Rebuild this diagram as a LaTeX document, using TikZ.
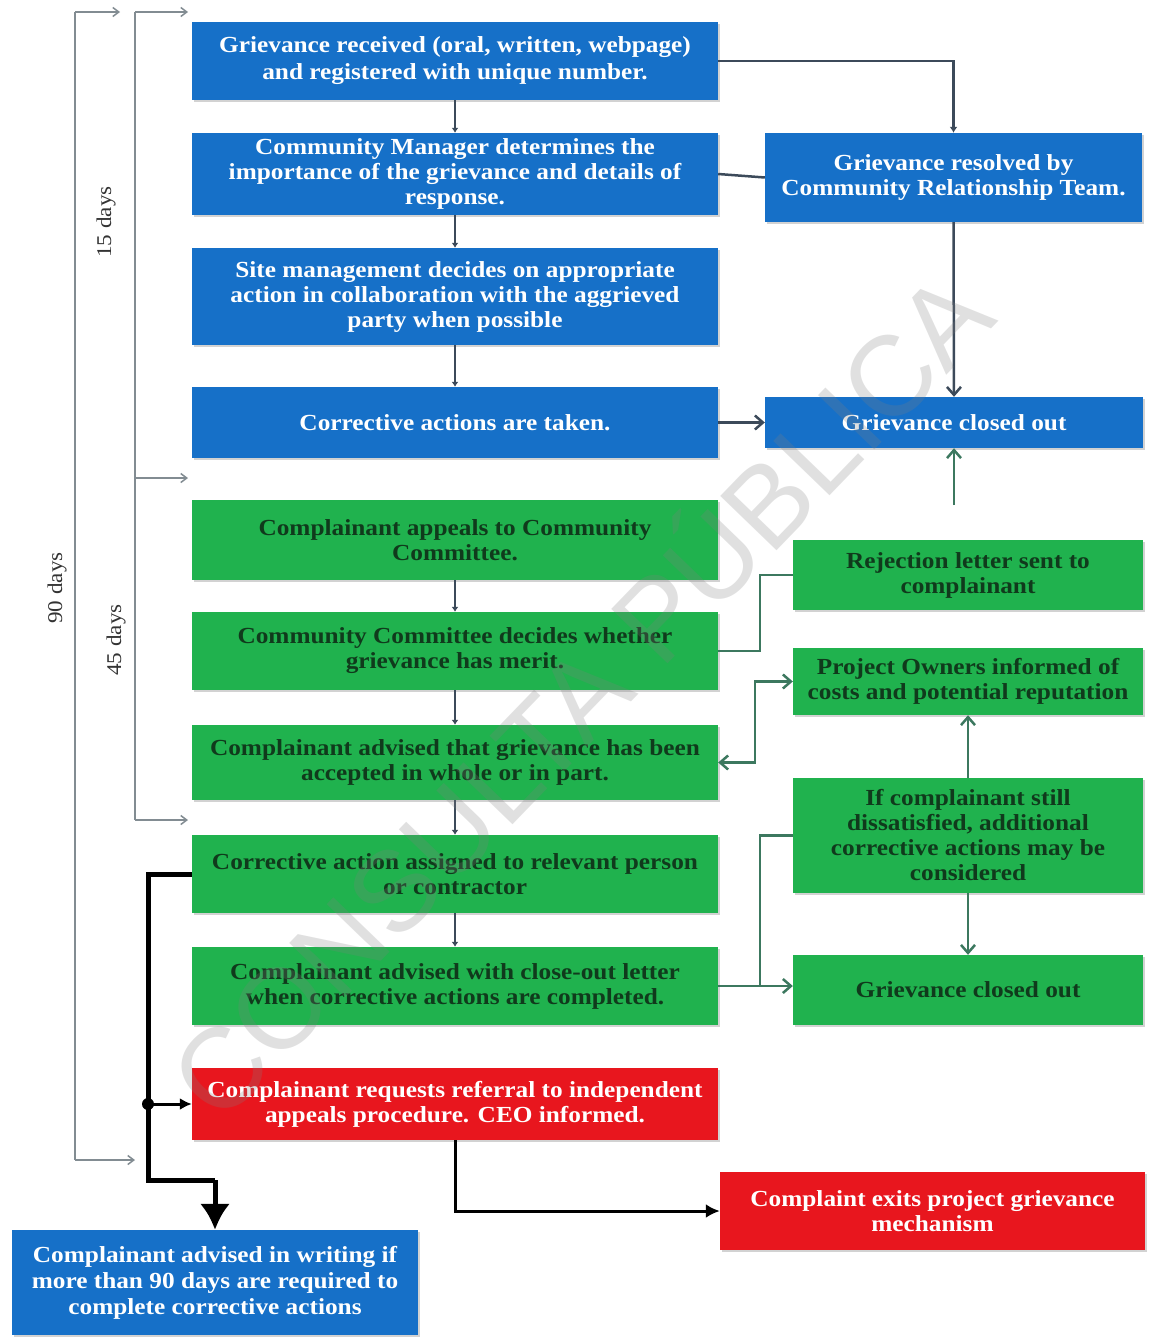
\documentclass[tikz,border=0pt]{standalone}
\usepackage{fontspec}
\usepackage{graphicx}
\setmainfont[FakeStretch=1.1]{Liberation Serif}
\newfontfamily\wmfont{Liberation Sans}
\usetikzlibrary{arrows.meta,shadows}
\definecolor{cblue}{RGB}{22,112,200}
\definecolor{cgreen}{RGB}{32,178,78}
\definecolor{cred}{RGB}{232,22,30}
\definecolor{gtext}{RGB}{16,58,28}
\definecolor{cline}{RGB}{60,74,90}
\definecolor{cbrk}{RGB}{130,140,146}
\definecolor{cgarrow}{RGB}{60,120,95}
\begin{document}
\begin{tikzpicture}[x=1pt,y=-1pt,
  box/.style={rectangle, inner sep=2pt, align=center,
    font=\bfseries\fontsize{23}{25}\selectfont,
    drop shadow={opacity=0.35, shadow xshift=2pt, shadow yshift=-2pt}},
  sz/.style 2 args={minimum width=#1, minimum height=#2},
  bluebox/.style={box, fill=cblue, text=white},
  greenbox/.style={box, fill=cgreen, text=gtext},
  redbox/.style={box, fill=cred, text=white},
  vlink/.style={draw=cline, line width=2pt, -{Latex[length=5pt,width=7pt]}},
  slink/.style={draw=cline, line width=2.5pt},
  sarrow/.style={draw=cline, line width=2.5pt, -{Straight Barb[length=8pt,width=14pt]}},
  garrow/.style={draw=cgarrow, line width=2.5pt},
  gtip/.style={-{Straight Barb[length=8pt,width=14pt]}},
  brk/.style={draw=cbrk, line width=1.5pt},
  brkarrow/.style={draw=cbrk, line width=1.5pt, -{Straight Barb[length=6pt,width=9pt]}},
  dlabel/.style={rotate=90, font=\fontsize{21}{24}\selectfont, text=black!80}
]
\useasboundingbox (0,0) rectangle (1150,1338);
\fill[white] (0,0) rectangle (1150,1338);

% time brackets
\draw[brk] (75,12) -- (75,1160);
\draw[brkarrow] (75,12) -- (120,12);
\draw[brkarrow] (75,1160) -- (135,1160);
\draw[brk, line width=2.5pt] (135,12) -- (135,820);
\draw[brkarrow] (135,12) -- (188,12);
\draw[brkarrow] (135,478) -- (188,478);
\draw[brkarrow] (135,820) -- (188,820);
\node[dlabel] (d15) at (106,222) {15 days};
\node[dlabel] (d45) at (116,640) {45 days};
\node[dlabel] (d90) at (57,588) {90 days};

% left column
\node[bluebox, sz={526pt}{78pt}, font=\bfseries\fontsize{23}{27}\selectfont] (B1) at (455,61) {Grievance received (oral, written, webpage)\\ and registered with unique number.};
\node[bluebox, sz={526pt}{82pt}] (B2) at (455,174) {Community Manager determines the\\ importance of the grievance and details of\\ response.};
\node[bluebox, sz={526pt}{97pt}] (B3) at (455,296.5) {Site management decides on appropriate\\ action in collaboration with the aggrieved\\ party when possible};
\node[bluebox, sz={526pt}{71pt}] (B4) at (455,422.5) {Corrective actions are taken.};
\node[greenbox, sz={526pt}{80pt}] (G1) at (455,540) {Complainant appeals to Community\\ Committee.};
\node[greenbox, sz={526pt}{78pt}] (G2) at (455,651) {Community Committee decides whether\\ grievance has merit.};
\node[greenbox, sz={526pt}{75pt}] (G3) at (455,762.5) {Complainant advised that grievance has been\\ accepted in whole or in part.};
\node[greenbox, sz={526pt}{78pt}] (G4) at (455,874) {Corrective action assigned to relevant person\\ or contractor};
\node[greenbox, sz={526pt}{78pt}] (G5) at (455,986) {Complainant advised with close-out letter\\ when corrective actions are completed.};
\node[redbox, sz={526pt}{72pt}] (R1) at (455,1104) {Complainant requests referral to independent\\ appeals procedure. CEO informed.};

% right column
\node[bluebox, sz={377pt}{89pt}] (Res) at (953.5,177.5) {Grievance resolved by\\ Community Relationship Team.};
\node[bluebox, sz={378pt}{51pt}] (CB) at (954,422.5) {Grievance closed out};
\node[greenbox, sz={350pt}{70pt}] (Rej) at (968,575) {Rejection letter sent to\\ complainant};
\node[greenbox, sz={350pt}{67pt}] (PO) at (968,681.5) {Project Owners informed of\\ costs and potential reputation};
\node[greenbox, sz={350pt}{115pt}] (If) at (968,835.5) {If complainant still\\ dissatisfied, additional\\ corrective actions may be\\ considered};
\node[greenbox, sz={350pt}{70pt}] (CG) at (968,990) {Grievance closed out};
\node[redbox, sz={425pt}{78pt}] (R2) at (932.5,1211) {Complaint exits project grievance\\ mechanism};
\node[bluebox, sz={406pt}{105pt}, font=\bfseries\fontsize{23}{26}\selectfont] (BB) at (215,1282.5) {Complainant advised in writing if\\ more than 90 days are required to\\ complete corrective actions};

% vertical links in left column
\draw[vlink] (B1.south) -- (B2.north);
\draw[vlink] (B2.south) -- (B3.north);
\draw[vlink] (B3.south) -- (B4.north);
\draw[vlink] (G1.south) -- (G2.north);
\draw[vlink] (G2.south) -- (G3.north);
\draw[vlink] (G3.south) -- (G4.north);
\draw[vlink] (G4.south) -- (G5.north);

% blue side links
\draw[slink, -{Latex[length=6pt,width=8pt]}] (B1.east) -| (Res.north);
\draw[slink] (B2.east) -- (Res.west);
\draw[sarrow] (Res.south) -- (CB.north);
\draw[sarrow] (B4.east) -- (CB.west);
\coordinate (gfree) at (954,505);
\draw[garrow, gtip] (gfree) -- (CB.south);

% green side links
\draw[garrow] (G2.east) -- ++(42,0) |- (Rej.west);
\draw[garrow, {Straight Barb[length=8pt,width=14pt]}-{Straight Barb[length=8pt,width=14pt]}] (G3.east) -- ++(37,0) |- (PO.west);
\draw[garrow, gtip] (If.north) -- (PO.south);
\draw[garrow, gtip] (If.south) -- (CG.north);
\coordinate (br) at (760,986);
\draw[garrow, gtip] (G5.east) -- (br) -- (br -| CG.west);
\draw[garrow] (br) |- (If.west);

% black links
\draw[line width=3pt, -{Latex[length=14pt,width=14pt]}] (R1.south) |- (R2.west);
\coordinate (k1) at (148,874);
\coordinate (k2) at (148,1104);
\coordinate (k3) at (148,1180);
\coordinate (k4) at (215,1180);
\draw[line width=5pt] (G4.west) -- (k1) -- (k3) -- (k4);
\draw[line width=5pt, -{Latex[length=26pt,width=30pt]}] (k4) -- (BB.north);
\draw[line width=3pt, -{Latex[length=12pt,width=12pt]}] (k2) -- (R1.west);
\fill (k2) circle (6pt);

% watermark
\node[rotate=46, text=gray, opacity=0.24, inner sep=0pt] (wm) at (575,690) {\resizebox{1120pt}{!}{\wmfont CONSULTA PÚBLICA}};
\end{tikzpicture}
\end{document}
